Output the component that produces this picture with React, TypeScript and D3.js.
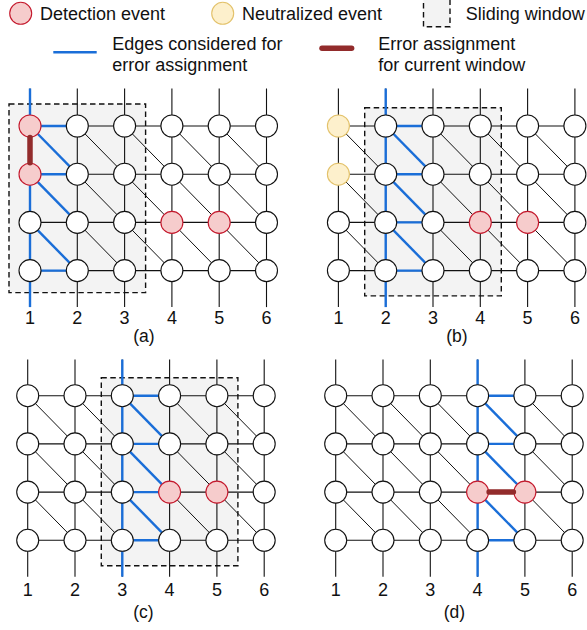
import { useEffect, useRef } from "react";
import * as d3 from "d3";

type Node = [number, number]; // [column, row]

const columns = [1, 2, 3, 4, 5, 6];
const rows = [1, 2, 3, 4];
const panelNames = ["(a)", "(b)", "(c)", "(d)"];
// sliding window column span per panel (null = no window)
const windowSpans: ([number, number] | null)[] = [[1, 3], [2, 4], [3, 5], null];
// column whose outgoing edges are considered in each panel
const activeColumns = [1, 2, 3, 4];
// rows whose horizontal edge out of the active column is not highlighted
const skippedRows: number[][] = [[3], [], [], []];
const detectionNodes: Node[][] = [
  [[1, 1], [1, 2], [4, 3], [5, 3]],
  [[4, 3], [5, 3]],
  [[4, 3], [5, 3]],
  [[4, 3], [5, 3]],
];
const neutralizedNodes: Node[][] = [[], [[1, 1], [1, 2]], [], []];
const errorEdges: [Node, Node][][] = [[[[1, 1], [1, 2]]], [], [], [[[4, 3], [5, 3]]]];

const legendTop = ["Detection event", "Neutralized event", "Sliding window"];
const legendEdges = ["Edges considered for", "error assignment"];
const legendError = ["Error assignment", "for current window"];

// layout of each panel (pixels)
const layout = [
  { x0: 30, y0: 126, lineTop: 37.5, lineBottom: 36.5, numY: 53.5, labelY: 71, labelX: 144, winTop: 22, winBottom: 22 },
  { x0: 338.4, y0: 126, lineTop: 37.5, lineBottom: 36.5, numY: 53.5, labelY: 71, labelX: 457, winTop: 18.3, winBottom: 25.3 },
  { x0: 27.7, y0: 395.7, lineTop: 36.2, lineBottom: 36.4, numY: 55.2, labelY: 78, labelX: 143.5, winTop: 18, winBottom: 25.4 },
  { x0: 335.7, y0: 395.7, lineTop: 36.2, lineBottom: 36.4, numY: 55.2, labelY: 78, labelX: 454.5, winTop: 18, winBottom: 25.4 },
];

const COL_STEP = 47.3;
const ROW_STEP = 48.2;
const R = 11;
const BLUE = "#1a6ed8";
const ERR = "#922b2b";
const DET_FILL = "#f6cccc";
const DET_STROKE = "#c4182c";
const NEU_FILL = "#fdf0cc";
const NEU_STROKE = "#e3c26b";
const WIN_FILL = "#f3f3f3";
const DASH = "5.5,3.5";
const FONT = "'Liberation Sans', Arial, Helvetica, sans-serif";

export default function App() {
  const svgRef = useRef<SVGSVGElement>(null);

  useEffect(() => {
    if (!svgRef.current) return;
    const svg = d3.select(svgRef.current);
    svg.selectAll("*").remove();

    // Legend
    const lg = svg.append("g").attr("font-family", FONT).attr("font-size", 18).attr("fill", "#111");
    lg.append("circle").attr("cx", 20.7).attr("cy", 13.3).attr("r", R)
      .attr("fill", DET_FILL).attr("stroke", DET_STROKE).attr("stroke-width", 1.1);
    lg.append("text").attr("x", 40).attr("y", 14).attr("dy", "0.35em").text(legendTop[0]);
    lg.append("circle").attr("cx", 222.7).attr("cy", 13.3).attr("r", R)
      .attr("fill", NEU_FILL).attr("stroke", NEU_STROKE).attr("stroke-width", 1.1);
    lg.append("text").attr("x", 242).attr("y", 14).attr("dy", "0.35em").text(legendTop[1]);
    lg.append("rect").attr("x", 423.5).attr("y", -1).attr("width", 26.5).attr("height", 27.7)
      .attr("fill", WIN_FILL).attr("stroke", "#111").attr("stroke-width", 1.4).attr("stroke-dasharray", DASH);
    lg.append("text").attr("x", 465.7).attr("y", 14).attr("dy", "0.35em").text(legendTop[2]);

    lg.append("line").attr("x1", 53.3).attr("x2", 96.7).attr("y1", 52.3).attr("y2", 52.3)
      .attr("stroke", BLUE).attr("stroke-width", 2.4);
    legendEdges.forEach((t, i) =>
      lg.append("text").attr("x", 112.3).attr("y", 43.3 + i * 21).attr("dy", "0.35em").text(t));
    lg.append("line").attr("x1", 322).attr("x2", 351.6).attr("y1", 48.3).attr("y2", 48.3)
      .attr("stroke", ERR).attr("stroke-width", 5.5).attr("stroke-linecap", "round");
    legendError.forEach((t, i) =>
      lg.append("text").attr("x", 378.3).attr("y", 43.3 + i * 21).attr("dy", "0.35em").text(t));

    // Panels
    layout.forEach((L, p) => {
      const x = d3.scaleLinear().domain([1, 6]).range([L.x0, L.x0 + 5 * COL_STEP]);
      const y = d3.scaleLinear().domain([1, 4]).range([L.y0, L.y0 + 3 * ROW_STEP]);
      const g = svg.append("g");
      const top = y(1) - L.lineTop;
      const bottom = y(4) + L.lineBottom;

      const span = windowSpans[p];
      if (span) {
        g.append("rect")
          .attr("x", x(span[0]) - 21)
          .attr("y", y(1) - L.winTop)
          .attr("width", x(span[1]) - x(span[0]) + 42)
          .attr("height", y(4) - y(1) + L.winTop + L.winBottom)
          .attr("fill", WIN_FILL)
          .attr("stroke", "#111")
          .attr("stroke-width", 1.4)
          .attr("stroke-dasharray", DASH);
      }

      // black lattice edges
      const edges = g.append("g").attr("stroke", "#111").attr("stroke-width", 1.1);
      columns.forEach((c) => {
        edges.append("line").attr("x1", x(c)).attr("x2", x(c)).attr("y1", top).attr("y2", bottom);
      });
      rows.forEach((r) => {
        edges.append("line").attr("x1", x(1)).attr("x2", x(6)).attr("y1", y(r)).attr("y2", y(r));
      });
      columns.slice(0, -1).forEach((c) => {
        rows.slice(0, -1).forEach((r) => {
          edges.append("line").attr("stroke-width", 1)
            .attr("x1", x(c)).attr("y1", y(r)).attr("x2", x(c + 1)).attr("y2", y(r + 1));
        });
      });

      // highlighted (blue) edges
      const a = activeColumns[p];
      const blue = g.append("g").attr("stroke", BLUE).attr("stroke-width", 2.4);
      blue.append("line").attr("x1", x(a)).attr("x2", x(a)).attr("y1", top).attr("y2", bottom);
      rows.forEach((r) => {
        if (skippedRows[p].includes(r)) return;
        blue.append("line").attr("x1", x(a)).attr("x2", x(a + 1)).attr("y1", y(r)).attr("y2", y(r));
      });
      rows.slice(0, -1).forEach((r) => {
        blue.append("line").attr("x1", x(a)).attr("y1", y(r)).attr("x2", x(a + 1)).attr("y2", y(r + 1));
      });

      // nodes
      const isIn = (list: Node[], c: number, r: number) => list.some(([nc, nr]) => nc === c && nr === r);
      columns.forEach((c) => {
        rows.forEach((r) => {
          const det = isIn(detectionNodes[p], c, r);
          const neu = isIn(neutralizedNodes[p], c, r);
          g.append("circle")
            .attr("cx", x(c))
            .attr("cy", y(r))
            .attr("r", R)
            .attr("fill", det ? DET_FILL : neu ? NEU_FILL : "#fff")
            .attr("stroke", det ? DET_STROKE : neu ? NEU_STROKE : "#111")
            .attr("stroke-width", 1.1);
        });
      });

      // error assignment
      errorEdges[p].forEach(([s, t]) => {
        const x1 = x(s[0]), y1 = y(s[1]), x2 = x(t[0]), y2 = y(t[1]);
        const len = Math.hypot(x2 - x1, y2 - y1);
        const ux = (x2 - x1) / len, uy = (y2 - y1) / len;
        const off = R + 0.5;
        g.append("line")
          .attr("x1", x1 + ux * off).attr("y1", y1 + uy * off)
          .attr("x2", x2 - ux * off).attr("y2", y2 - uy * off)
          .attr("stroke", ERR).attr("stroke-width", 5.5).attr("stroke-linecap", "round");
      });

      // column numbers and panel label
      const tg = g.append("g").attr("font-family", FONT).attr("font-size", 17.5).attr("fill", "#111")
        .attr("text-anchor", "middle");
      columns.forEach((c) => {
        tg.append("text").attr("x", x(c)).attr("y", y(4) + L.numY).attr("font-size", 18).text(String(c));
      });
      tg.append("text").attr("x", L.labelX).attr("y", y(4) + L.labelY).text(panelNames[p]);
    });
  }, []);

  return (
    <div style={{ position: "absolute", left: 0, top: 0 }}>
      <svg ref={svgRef} width={587} height={630} style={{ display: "block" }} />
    </div>
  );
}
